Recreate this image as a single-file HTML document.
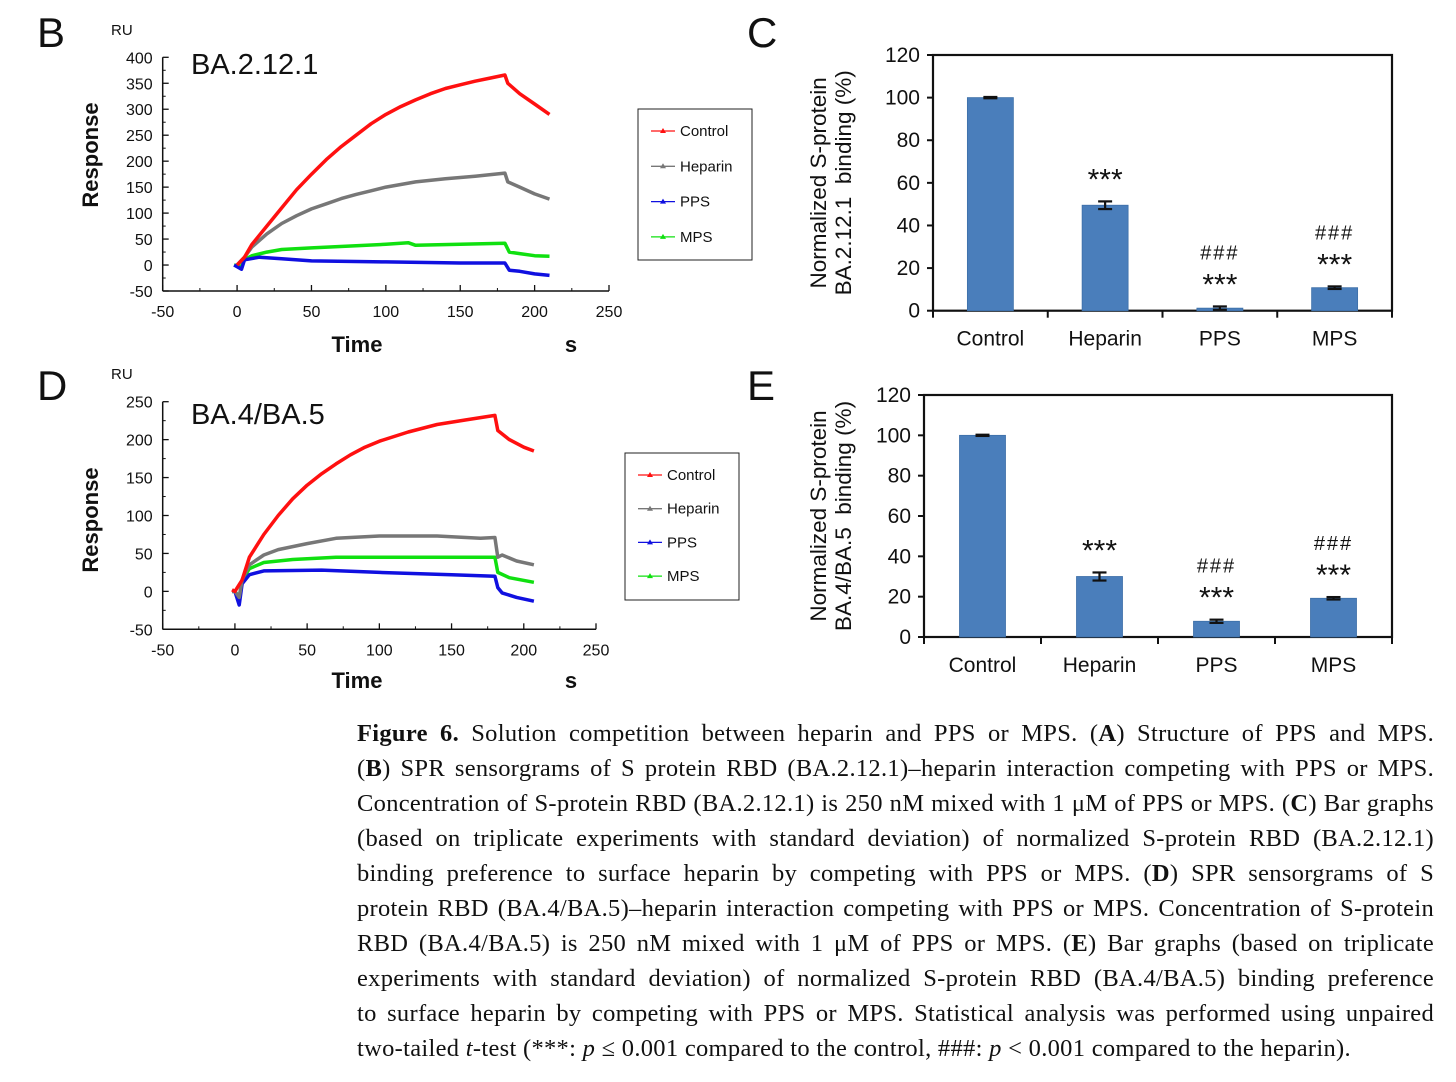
<!DOCTYPE html>
<html><head><meta charset="utf-8">
<style>
html,body{margin:0;padding:0;background:#fff;}
body{width:1456px;height:1082px;position:relative;overflow:hidden;font-family:"Liberation Sans",sans-serif;}
#fig{position:absolute;left:0;top:0;}
.cap{position:absolute;left:357px;width:1077px;font-family:"Liberation Serif",serif;font-size:24.5px;letter-spacing:0.3px;color:#111;white-space:nowrap;}
.cap.j{text-align:justify;text-align-last:justify;white-space:normal;}
</style></head>
<body>
<svg id="fig" width="1456" height="1082" font-family="Liberation Sans, sans-serif"></svg>

<div class="cap j" style="top:720px"><b>Figure 6.</b> Solution competition between heparin and PPS or MPS. (<b>A</b>) Structure of PPS and MPS.</div>
<div class="cap j" style="top:755px">(<b>B</b>) SPR sensorgrams of S protein RBD (BA.2.12.1)–heparin interaction competing with PPS or MPS.</div>
<div class="cap j" style="top:790px">Concentration of S-protein RBD (BA.2.12.1) is 250 nM mixed with 1 μM of PPS or MPS. (<b>C</b>) Bar graphs</div>
<div class="cap j" style="top:825px">(based on triplicate experiments with standard deviation) of normalized S-protein RBD (BA.2.12.1)</div>
<div class="cap j" style="top:860px">binding preference to surface heparin by competing with PPS or MPS. (<b>D</b>) SPR sensorgrams of S</div>
<div class="cap j" style="top:895px">protein RBD (BA.4/BA.5)–heparin interaction competing with PPS or MPS. Concentration of S-protein</div>
<div class="cap j" style="top:930px">RBD (BA.4/BA.5) is 250 nM mixed with 1 μM of PPS or MPS. (<b>E</b>) Bar graphs (based on triplicate</div>
<div class="cap j" style="top:965px">experiments with standard deviation) of normalized S-protein RBD (BA.4/BA.5) binding preference</div>
<div class="cap j" style="top:1000px">to surface heparin by competing with PPS or MPS. Statistical analysis was performed using unpaired</div>
<div class="cap" style="top:1035px">two-tailed <i>t</i>-test (***: <i>p</i> ≤ 0.001 compared to the control, ###: <i>p</i> &lt; 0.001 compared to the heparin).</div>

<script>
// ---- Panel B data (BA.2.12.1) ----
const bTime = {
  control:[0,5,10,20,30,40,50,60,70,80,90,100,110,120,130,140,150,160,170,180,182,190,200,210],
  heparin:[0,5,10,20,30,40,50,60,70,80,90,100,120,140,160,180,182,190,200,210],
  pps:[-2,3,5,15,30,50,100,150,180,183,190,200,210],
  mps:[-2,3,5,10,20,30,50,80,100,115,120,150,180,183,190,200,210]
};
const bControl = [0,15,40,75,110,145,175,203,228,250,272,290,305,318,330,340,347,354,360,366,350,330,310,290];
const bHeparin = [0,15,35,60,80,95,108,118,128,136,143,150,160,166,171,177,160,150,137,127];
const bPPS = [0,-8,10,15,12,8,6,4,4,-10,-12,-17,-20];
const bMPS = [0,-3,10,18,25,30,33,37,40,43,38,40,42,25,22,18,17];
const bYTicks = [-50,0,50,100,150,200,250,300,350,400];
const xTicks = [-50,0,50,100,150,200,250];

// ---- Panel D data (BA.4/BA.5) ----
const dTime = {
  control:[-2,0,5,10,20,30,40,50,60,70,80,90,100,120,140,160,180,182,190,200,207],
  heparin:[-2,0,3,5,10,20,30,50,70,100,140,170,180,182,185,195,207],
  pps:[-2,0,3,5,10,20,60,100,150,180,182,185,195,207],
  mps:[-2,0,3,5,10,20,40,70,180,182,190,207]
};
const dControl = [2,0,15,45,75,100,122,140,155,168,180,190,198,210,220,226,232,212,200,190,185];
const dHeparin = [0,0,-8,15,35,48,55,63,70,73,73,70,71,45,48,40,35];
const dPPS = [0,0,-18,10,22,27,28,25,22,20,5,-2,-8,-13];
const dMPS = [0,0,-8,15,30,38,42,45,45,25,18,12];
const dYTicks = [-50,0,50,100,150,200,250];

// ---- Bar data ----
const barCategories = ["Control","Heparin","PPS","MPS"];
const cValues = [100,49.5,1.2,10.8];
const cErrors = [0.3,1.8,0.8,0.6];
const cStars = ["","***","***","***"];
const cHashes = ["","","###","###"];
const eValues = [100,30,7.8,19.2];
const eErrors = [0.3,2,0.8,0.6];
const eStars = ["","***","***","***"];
const eHashes = ["","","###","###"];
const barYTicks = [0,20,40,60,80,100,120];

const NS="http://www.w3.org/2000/svg";
const svg=document.getElementById('fig');
function mk(tag,attrs,parent,text){const e=document.createElementNS(NS,tag);for(const k in attrs)e.setAttribute(k,attrs[k]);if(text!==undefined)e.textContent=text;(parent||svg).appendChild(e);return e;}

function label(x,y,t,size,name,extra){
  const e=mk('text',Object.assign({x:x,y:y,'font-size':size,fill:'#111'},extra||{}),svg,t);
  
  
  return e;
}

const colors={control:'#ff1010',heparin:'#777777',pps:'#1010e0',mps:'#10e010'};

function sensorgram(o){
  const g=mk('g',{});
  
  
  const sx=v=>o.x0+(v-(-50))/300*(o.x1-o.x0);
  const sy=v=>o.yb+(v-o.ymin)/(o.ymax-o.ymin)*(o.yt-o.yb);
  const ax=mk('line',{x1:sx(-50),y1:o.yb,x2:sx(250),y2:o.yb,stroke:'#111','stroke-width':1.5},g);
  
  
  const ay=mk('line',{x1:sx(-50),y1:o.yb,x2:sx(-50),y2:sy(o.ymax),stroke:'#111','stroke-width':1.5},g);
  
  
  xTicks.forEach((t,i)=>{
    mk('line',{x1:sx(t),y1:o.yb,x2:sx(t),y2:o.yb-6,stroke:'#111','stroke-width':1.3},g);
    if(i<xTicks.length-1) mk('line',{x1:sx(t+25),y1:o.yb,x2:sx(t+25),y2:o.yb-3,stroke:'#111','stroke-width':1},g);
    const tl=mk('text',{x:sx(t),y:o.yb+26,'font-size':16,'text-anchor':'middle',fill:'#111'},g,String(t));
    
    
  });
  o.yticks.forEach((t,i)=>{
    mk('line',{x1:sx(-50),y1:sy(t),x2:sx(-50)+6,y2:sy(t),stroke:'#111','stroke-width':1.3},g);
    if(i<o.yticks.length-1) mk('line',{x1:sx(-50),y1:sy(t+25),x2:sx(-50)+3,y2:sy(t+25),stroke:'#111','stroke-width':1},g);
    const tl=mk('text',{x:sx(-50)-10,y:sy(t)+6,'font-size':16,'text-anchor':'end',fill:'#111'},g,String(t));
    
    
  });
  ['mps','pps','heparin','control'].forEach(k=>{
    const pts=o.time[k].map((t,i)=>sx(t).toFixed(1)+','+sy(o.vals[k][i]).toFixed(1)).join(' ');
    const pl=mk('polyline',{points:pts,fill:'none',stroke:colors[k],'stroke-width':3.5,'stroke-linejoin':'round'},g);
    
    
  });
}

sensorgram({name:'sensorgram-ba2121',x0:162.7,x1:609,yb:291,yt:57.3,ymin:-50,ymax:400,yticks:bYTicks,time:bTime,
  vals:{control:bControl,heparin:bHeparin,pps:bPPS,mps:bMPS}});
sensorgram({name:'sensorgram-ba45',x0:162.7,x1:596,yb:629.3,yt:401.7,ymin:-50,ymax:250,yticks:dYTicks,time:dTime,
  vals:{control:dControl,heparin:dHeparin,pps:dPPS,mps:dMPS}});

function legend(x,y,w,h,gap,name){
  const g=mk('g',{});
  
  
  mk('rect',{x:x,y:y,width:w,height:h,fill:'#fff',stroke:'#222','stroke-width':1},g);
  const names=[['control','Control'],['heparin','Heparin'],['pps','PPS'],['mps','MPS']];
  names.forEach((n,i)=>{
    const yy=y+22+i*gap;
    const e=mk('g',{},g);
    
    
    mk('line',{x1:x+13,y1:yy,x2:x+37,y2:yy,stroke:colors[n[0]],'stroke-width':1.3},e);
    mk('path',{d:`M${x+22},${yy+2} L${x+25},${yy-3} L${x+28},${yy+2}Z`,fill:colors[n[0]]},e);
    mk('text',{x:x+42,y:yy+5,'font-size':15,fill:'#111'},e,n[1]);
  });
}
legend(638,109,114,151,35.3,'legend-b');
legend(625,453,114,147,33.7,'legend-d');

function barChart(o){
  const g=mk('g',{});
  
  
  const sy=v=>o.yb+v/120*(o.yt-o.yb);
  const step=(o.x1-o.x0)/4;
  const cx=i=>o.x0+step*(i+0.5);
  const box=mk('rect',{x:o.x0,y:o.yt,width:o.x1-o.x0,height:o.yb-o.yt,fill:'none',stroke:'#111','stroke-width':2.2},g);
  
  
  barYTicks.forEach(t=>{
    mk('line',{x1:o.x0-6,y1:sy(t),x2:o.x0,y2:sy(t),stroke:'#111','stroke-width':2},g);
    const tl=mk('text',{x:o.x0-13,y:sy(t)+7,'font-size':21,'text-anchor':'end',fill:'#111'},g,String(t));
    
    
  });
  for(let i=0;i<=4;i++) mk('line',{x1:o.x0+step*i,y1:o.yb,x2:o.x0+step*i,y2:o.yb+7,stroke:'#111','stroke-width':2},g);
  barCategories.forEach((c,i)=>{
    const b=mk('rect',{x:cx(i)-23,y:sy(o.values[i]),width:46,height:sy(0)-sy(o.values[i]),fill:'#4a7ebb',stroke:'#3d6fa8','stroke-width':0.8},g);
    
    
    const e=o.errors[i], top=sy(o.values[i]+e), bot=sy(o.values[i]-e);
    const eg=mk('g',{stroke:'#111','stroke-width':2.2},g);
    
    
    mk('line',{x1:cx(i),y1:top,x2:cx(i),y2:bot},eg);
    mk('line',{x1:cx(i)-7,y1:top,x2:cx(i)+7,y2:top},eg);
    mk('line',{x1:cx(i)-7,y1:bot,x2:cx(i)+7,y2:bot},eg);
    const cl=mk('text',{x:cx(i),y:o.yb+35,'font-size':21,'text-anchor':'middle',fill:'#111'},g,c);
    
    
    if(o.stars[i]){
      const starC=top-28;
      const st=mk('text',{x:cx(i),y:starC+16,'font-size':30,'text-anchor':'middle',fill:'#111','letter-spacing':0},g,o.stars[i]);
      
      
      if(o.hashes[i]){
        const hs=mk('text',{x:cx(i),y:starC-26+7,'font-size':20,'text-anchor':'middle',fill:'#111','letter-spacing':2},g,o.hashes[i]);
        
        
      }
    }
  });
  const yt=mk('text',{transform:`translate(${o.tx},${(o.yt+o.yb)/2}) rotate(-90)`,'font-size':22.5,'text-anchor':'middle',fill:'#111'},g);
  
  
  mk('tspan',{x:0,dy:0},yt,'Normalized S-protein');
  mk('tspan',{x:0,dy:25},yt,o.title2);
}
barChart({name:'bar-chart-c',x0:933,x1:1392,yt:55,yb:310.7,values:cValues,errors:cErrors,stars:cStars,hashes:cHashes,tx:826,title2:'BA.2.12.1\u00a0\u00a0binding (%)'});
barChart({name:'bar-chart-e',x0:924,x1:1392,yt:395,yb:637,values:eValues,errors:eErrors,stars:eStars,hashes:eHashes,tx:826,title2:'BA.4/BA.5\u00a0\u00a0binding (%)'});

label(37,47,'B',42,'panel-label-b');
label(747,47,'C',42,'panel-label-c');
label(37,400,'D',42,'panel-label-d');
label(747,400,'E',42,'panel-label-e');
label(111,35,'RU',15,'y-unit-b');
label(111,379,'RU',15,'y-unit-d');
label(191,74,'BA.2.12.1',29,'title-ba2121');
label(191,424,'BA.4/BA.5',29,'title-ba45');
label(98,155,'Response',22,'y-axis-title-b',{'font-weight':'bold','text-anchor':'middle',transform:'rotate(-90 98 155)'});
label(98,520,'Response',22,'y-axis-title-d',{'font-weight':'bold','text-anchor':'middle',transform:'rotate(-90 98 520)'});
label(357,352,'Time',22,'x-axis-title-b',{'font-weight':'bold','text-anchor':'middle'});
label(571,352,'s',22,'x-unit-b',{'font-weight':'bold','text-anchor':'middle'});
label(357,688,'Time',22,'x-axis-title-d',{'font-weight':'bold','text-anchor':'middle'});
label(571,688,'s',22,'x-unit-d',{'font-weight':'bold','text-anchor':'middle'});
</script>
</body></html>
